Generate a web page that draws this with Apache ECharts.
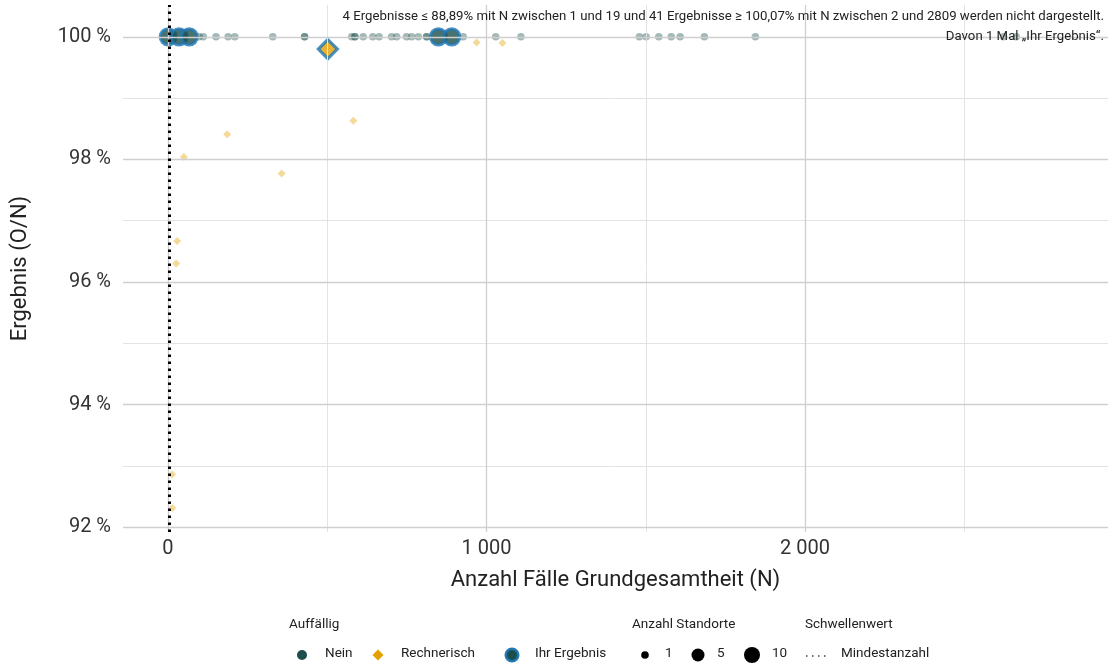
<!DOCTYPE html>
<html>
<head>
<meta charset="utf-8">
<script src="https://cdn.jsdelivr.net/npm/echarts@6/dist/echarts.min.js"></script>
<style>
html,body{margin:0;padding:0;background:#fff;}
#chart{width:1108px;height:664px;}
</style>
</head>
<body>
<div id="chart"></div>
<script>
// ---- Data ----
const neinN = [98,111,151,189,210,329,429,429,577,587,587,613,643,663,702,718,749,765,786,812,812,927,1029,1108,1480,1501,1541,1580,1608,1684,1844,2623,2663];
const neinVal = [100,100,100,100,100,100,100,100,100,100,100,100,100,100,100,100,100,100,100,100,100,100,100,100,100,100,100,100,100,100,100,100,100];
const rechN = [582,186,50,357,29,26,13,14,969,1050];
const rechVal = [98.63,98.41,98.04,97.77,96.67,96.30,92.86,92.31,99.91,99.90];
const ihrNeinN = [1,35,67,849,891];
const ihrNeinVal = [100,100,100,100,100];
const ihrRechN = [502];
const ihrRechVal = [99.8];
const mindestanzahl = 4;
const yTicks = [92,94,96,98,100];
const yMinor = [93,95,97,99];
const xTicks = [0,1000,2000];
const xMinor = [500,1500,2500];
const noteLines = [
  '4 Ergebnisse \u2264 88,89% mit N zwischen 1 und 19 und 41 Ergebnisse \u2265 100,07% mit N zwischen 2 und 2809 werden nicht dargestellt.',
  'Davon 1 Mal \u201EIhr Ergebnis\u201C.'
];

const FONT = 'Roboto';
const C_NEIN = '#1c4f4b';
const C_RECH = '#e4a000';
const C_BLUE = '#1f77b4';

const zip = (a, b) => a.map((v, i) => [v, b[i]]);

const chart = echarts.init(document.getElementById('chart'), null, {renderer: 'canvas'});

const gridLines = [];
yMinor.forEach(v => gridLines.push({yAxis: v, lineStyle: {color: '#e3e3e3', width: 1, type: 'solid'}}));
xMinor.forEach(v => gridLines.push({xAxis: v, lineStyle: {color: '#e3e3e3', width: 1, type: 'solid'}}));
yTicks.forEach(v => gridLines.push({yAxis: v, lineStyle: {color: '#cfcfcf', width: 1.3, type: 'solid'}}));
xTicks.forEach(v => gridLines.push({xAxis: v, lineStyle: {color: '#cfcfcf', width: 1.3, type: 'solid'}}));

const legendText = (x, y, t) => ({type: 'text', left: x, top: y - 8, style: {text: t, font: '13.5px ' + FONT, fill: '#222'}});
const diamond = (cx, cy, r, fill) => ({type: 'polygon', shape: {points: [[cx, cy - r], [cx + r, cy], [cx, cy + r], [cx - r, cy]]}, style: {fill: fill}});

const option = {
  backgroundColor: '#fff',
  animation: false,
  textStyle: {fontFamily: FONT},
  grid: {left: 123, right: 0, top: 5, bottom: 132, containLabel: false},
  xAxis: {
    type: 'value', min: -141, max: 2951,
    name: 'Anzahl F\u00E4lle Grundgesamtheit (N)', nameLocation: 'middle', nameGap: 37,
    nameTextStyle: {fontSize: 22, color: '#222', fontFamily: FONT},
    axisLine: {show: false}, axisTick: {show: false}, splitLine: {show: false},
    axisLabel: {
      customValues: xTicks, fontSize: 20, color: '#333', margin: 7, fontFamily: FONT,
      formatter: v => String(v).replace(/\B(?=(\d{3})+(?!\d))/g, ' ')
    }
  },
  yAxis: {
    type: 'value', min: 91.92, max: 100.52,
    name: 'Ergebnis (O/N)', nameLocation: 'middle', nameGap: 92,
    nameTextStyle: {fontSize: 22, color: '#222', fontFamily: FONT},
    axisLine: {show: false}, axisTick: {show: false}, splitLine: {show: false},
    axisLabel: {
      customValues: yTicks, fontSize: 20, color: '#333', margin: 12, fontFamily: FONT,
      formatter: v => Math.round(v) + ' %'
    }
  },
  series: [
    {
      type: 'line', data: [], silent: true, z: 1,
      markLine: {silent: true, symbol: 'none', label: {show: false}, animation: false, data: gridLines}
    },
    {
      type: 'line', data: [], silent: true, z: 2,
      markLine: {silent: true, symbol: 'none', label: {show: false}, animation: false,
        data: [{xAxis: mindestanzahl, lineStyle: {color: '#000', width: 3, type: [2.4, 4.6]}}]}
    },
    {
      name: 'Nein', type: 'scatter', z: 3, symbol: 'circle', symbolSize: 7.5,
      itemStyle: {color: C_NEIN, opacity: 0.4},
      data: zip(neinN, neinVal)
    },
    {
      name: 'Rechnerisch', type: 'scatter', z: 3, symbol: 'diamond', symbolSize: 8,
      itemStyle: {color: C_RECH, opacity: 0.4},
      data: zip(rechN, rechVal)
    },
    {
      name: 'Ihr Ergebnis', type: 'scatter', z: 4, symbol: 'circle', symbolSize: 16,
      itemStyle: {color: C_NEIN, borderColor: C_BLUE, borderWidth: 3.2},
      data: zip(ihrNeinN, ihrNeinVal)
    },
    {
      name: 'Ihr Ergebnis Rechnerisch', type: 'scatter', z: 4, symbol: 'diamond', symbolSize: 19,
      itemStyle: {color: C_RECH, borderColor: C_BLUE, borderWidth: 3.2},
      data: zip(ihrRechN, ihrRechVal)
    }
  ],
  graphic: [
    {type: 'text', right: 4, top: 10, z: 10, style: {text: noteLines[0], font: '13.2px ' + FONT, fill: '#222', align: 'right'}},
    {type: 'text', right: 4, top: 30, z: 10, style: {text: noteLines[1], font: '13.2px ' + FONT, fill: '#222', align: 'right'}},
    legendText(289, 626, 'Auff\u00E4llig'),
    {type: 'circle', shape: {cx: 302, cy: 655, r: 5}, style: {fill: C_NEIN}},
    legendText(325, 655, 'Nein'),
    diamond(378, 655, 5.5, C_RECH),
    legendText(401, 655, 'Rechnerisch'),
    {type: 'circle', shape: {cx: 512, cy: 655, r: 6.2}, style: {fill: C_NEIN, stroke: C_BLUE, lineWidth: 2.6}},
    legendText(535, 655, 'Ihr Ergebnis'),
    legendText(632, 626, 'Anzahl Standorte'),
    {type: 'circle', shape: {cx: 645, cy: 655, r: 3.8}, style: {fill: '#000'}},
    legendText(665, 655, '1'),
    {type: 'circle', shape: {cx: 698, cy: 655, r: 6.5}, style: {fill: '#000'}},
    legendText(717, 655, '5'),
    {type: 'circle', shape: {cx: 752, cy: 655, r: 8}, style: {fill: '#000'}},
    legendText(772, 655, '10'),
    legendText(805, 626, 'Schwellenwert'),
    {type: 'line', shape: {x1: 806, y1: 656, x2: 828, y2: 656}, style: {stroke: '#444', lineWidth: 1.5, lineDash: [1.5, 4.5]}},
    legendText(841, 655, 'Mindestanzahl')
  ]
};
chart.setOption(option);
</script>
</body>
</html>
